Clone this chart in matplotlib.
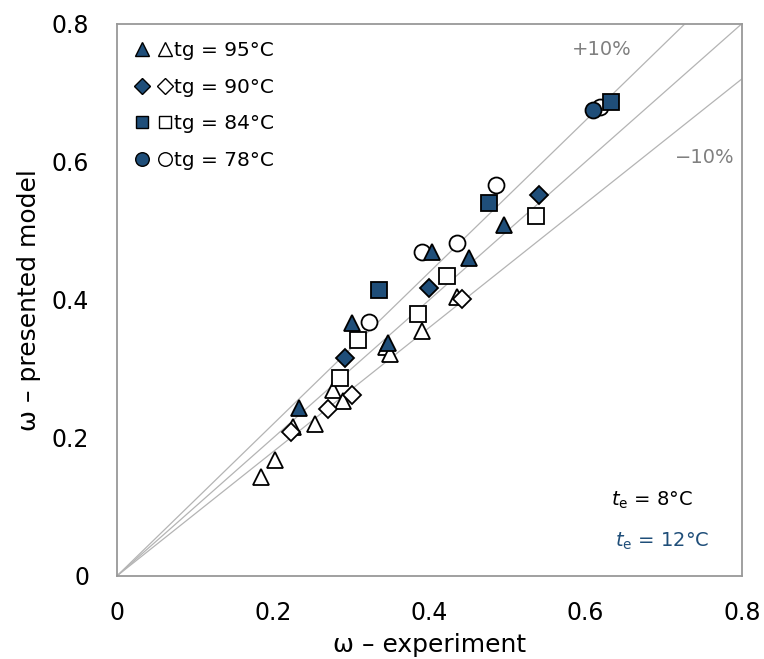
import numpy as np
import matplotlib.pyplot as plt
from matplotlib.lines import Line2D
from matplotlib.legend_handler import HandlerTuple

# tg = 95 C
tri_12_x = [0.233, 0.301, 0.347, 0.403, 0.451, 0.496]
tri_12_y = [0.243, 0.367, 0.338, 0.470, 0.461, 0.509]
tri_8_x = [0.185, 0.203, 0.225, 0.254, 0.277, 0.290, 0.344, 0.349, 0.391, 0.435]
tri_8_y = [0.143, 0.168, 0.216, 0.220, 0.270, 0.254, 0.332, 0.322, 0.355, 0.404]
# tg = 90 C
dia_12_x = [0.292, 0.400, 0.540]
dia_12_y = [0.316, 0.417, 0.552]
dia_8_x = [0.223, 0.270, 0.301, 0.442]
dia_8_y = [0.208, 0.242, 0.262, 0.401]
# tg = 84 C
sq_12_x = [0.336, 0.476, 0.633]
sq_12_y = [0.414, 0.541, 0.686]
sq_8_x = [0.286, 0.309, 0.386, 0.422, 0.536]
sq_8_y = [0.287, 0.342, 0.380, 0.435, 0.522]
# tg = 78 C
ci_12_x = [0.609]
ci_12_y = [0.675]
ci_8_x = [0.323, 0.390, 0.436, 0.485, 0.619]
ci_8_y = [0.368, 0.470, 0.483, 0.567, 0.680]

labels = ['tg = 95°C', 'tg = 90°C', 'tg = 84°C', 'tg = 78°C']
blue = '#1f4e79'

plt.rcParams['mathtext.fontset'] = 'dejavusans'

fig = plt.figure(figsize=(7.64, 6.59), dpi=100)
ax = fig.add_axes([0.153, 0.126, 0.818, 0.838])

xl = np.array([0, 1])
for k in [1.1, 1.0, 0.9]:
    ax.plot(xl, k * xl, color='#b4b4b4', lw=0.9, zorder=1)

groups = [
    ('^', 12, tri_8_x, tri_8_y, tri_12_x, tri_12_y),
    ('D', 9, dia_8_x, dia_8_y, dia_12_x, dia_12_y),
    ('s', 11, sq_8_x, sq_8_y, sq_12_x, sq_12_y),
    ('o', 11.5, ci_8_x, ci_8_y, ci_12_x, ci_12_y),
]
handles = []
for m, ms, x8, y8, x12, y12 in groups:
    ax.plot(x8, y8, ls='none', marker=m, ms=ms, mfc='white', mec='black', mew=1.3, zorder=3)
    ax.plot(x12, y12, ls='none', marker=m, ms=ms, mfc=blue, mec='black', mew=1.3, zorder=4)
    lms = ms * 0.85
    h1 = Line2D([], [], ls='none', marker=m, ms=lms, mfc=blue, mec='black', mew=1.0)
    h2 = Line2D([], [], ls='none', marker=m, ms=lms, mfc='white', mec='black', mew=1.0)
    handles.append((h1, h2))

ax.legend(handles, labels, handler_map={tuple: HandlerTuple(ndivide=None, pad=0.4)},
          loc='upper left', frameon=False, fontsize=14.5, handlelength=1.9,
          handletextpad=0.1, labelspacing=0.88, borderaxespad=0.4, borderpad=0.45)

ax.text(0.583, 0.755, '+10%', color='#808080', fontsize=14)
ax.text(0.791, 0.598, '\u221210%', color='#808080', fontsize=14, ha='right')
ax.text(0.737, 0.102, r'$t_\mathrm{e}$ = 8°C', color='black', fontsize=14, ha='right')
ax.text(0.758, 0.043, r'$t_\mathrm{e}$ = 12°C', color=blue, fontsize=14, ha='right')

ax.set_xlim(0, 0.8)
ax.set_ylim(0, 0.8)
ax.set_xticks([0, 0.2, 0.4, 0.6, 0.8])
ax.set_yticks([0, 0.2, 0.4, 0.6, 0.8])
ax.set_xticklabels(['0', '0.2', '0.4', '0.6', '0.8'])
ax.set_yticklabels(['0', '0.2', '0.4', '0.6', '0.8'])
ax.tick_params(length=0, labelsize=17)
ax.tick_params(axis='y', pad=20)
ax.tick_params(axis='x', pad=18)
for s in ax.spines.values():
    s.set_color('#999999')
    s.set_linewidth(1.3)
ax.set_xlabel('\u03c9 \u2013 experiment', fontsize=18, labelpad=6)
ax.set_ylabel('\u03c9 \u2013 presented model', fontsize=18, labelpad=8)

fig.savefig('out.png', dpi=100)
